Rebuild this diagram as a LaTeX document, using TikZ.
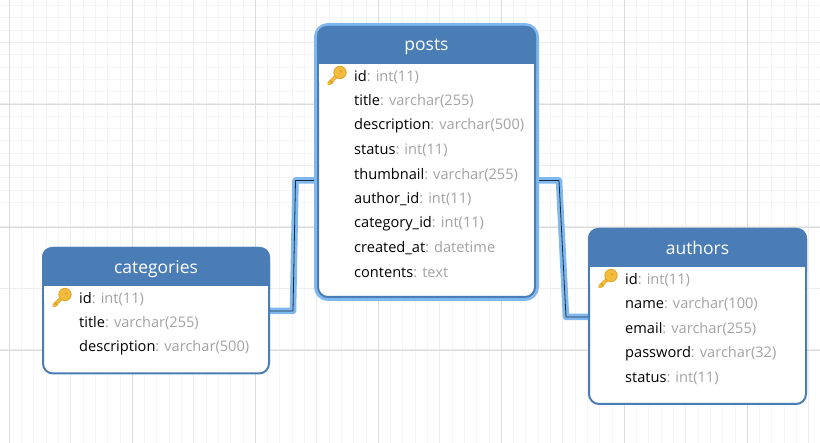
\documentclass[tikz,border=0pt]{standalone}
\usepackage{fontspec}
\setmainfont{Open Sans}
\definecolor{hdr}{HTML}{4A7DB5}
\definecolor{hilite}{HTML}{7FB8EE}
\definecolor{typ}{HTML}{A3A3A3}
\definecolor{gold}{HTML}{F3BC3C}
\definecolor{goldd}{HTML}{E0A528}
\tikzset{
  x=1pt,y=-1pt,
  tablebox/.style={draw=hdr,line width=2pt,fill=white,rounded corners=10pt,anchor=north west,inner sep=0pt,outer sep=0pt},
  titletext/.style={text=white,font=\fontsize{17.5}{19}\selectfont,inner sep=0pt},
  fieldtext/.style={anchor=west,inner sep=0pt,yshift=-1pt,font=\fontsize{14.6}{17}\selectfont},
  hiliteline/.style={draw=hilite,line width=6.5pt,line join=round,line cap=round},
  darkline/.style={draw=hdr!35!black,line width=.8pt,line join=round},
  gridminor/.style={draw=black!4,line width=.9pt},
  gridmid/.style={draw=black!7,line width=1.1pt},
  gridmajor/.style={draw=black!14,line width=.9pt},
}
\newcommand{\fld}[2]{#1\textcolor{typ}{: #2}}
\newcommand{\keyicon}[2]{%
  \begin{scope}[shift={(#1,#2)}]
    \draw[goldd,line width=3.8pt,line cap=round] (-7.5,7.5) -- (3,-3);
    \draw[gold,line width=2.2pt,line cap=round] (-7.5,7.5) -- (3,-3);
    \draw[goldd,line width=2pt] (-6.5,4.5) -- (-4,7.5);
    \fill[gold,draw=goldd,line width=.8pt] (3.5,-3.5) circle (6.2);
    \fill[goldd] (4.5,-4.5) circle (1.4);
  \end{scope}}
\begin{document}
\begin{tikzpicture}
\useasboundingbox (0,0) rectangle (820,443);
\fill[white] (0,0) rectangle (820,443);
% grid
\foreach \k in {0,...,66}{\draw[gridminor] ({9.3+12.3*\k},0) -- ({9.3+12.3*\k},443);}
\foreach \k in {-8,...,27}{\draw[gridminor] (0,{104-12.3*\k}) -- (820,{104-12.3*\k});}
\foreach \k in {0,...,13}{\draw[gridmid] ({9.3+61.5*\k},0) -- ({9.3+61.5*\k},443);}
\foreach \k in {-1,...,5}{\draw[gridmid] (0,{104-61.5+61.5*\k}) -- (820,{104-61.5+61.5*\k});}
\foreach \k in {0,...,6}{\draw[gridmajor] ({9.3+123*\k},0) -- ({9.3+123*\k},443);}
\foreach \k in {0,...,2}{\draw[gridmajor] (0,{104+123*\k}) -- (820,{104+123*\k});}
% connector anchors
\coordinate (p1) at (318,180.5);
\coordinate (b1) at (295.5,180.5);
\coordinate (b2) at (293,311);
\coordinate (c1) at (268,311);
\coordinate (p2) at (535,180.5);
\coordinate (b3) at (559,180.5);
\coordinate (b4) at (566,317);
\coordinate (a1) at (589,317);
% connectors
\draw[hiliteline] (p1) -- (b1) -- (b2) -- (c1);
\draw[hiliteline] (p2) -- (b3) -- (b4) -- (a1);
\draw[darkline] (p1) -- (b1) -- (b2) -- (c1);
\draw[darkline] (p2) -- (b3) -- (b4) -- (a1);
% posts
\draw[hilite,line width=4pt,rounded corners=12pt] (316,25) rectangle (537,299);
\node[tablebox,minimum width=217pt,minimum height=270pt] (posts) at (318,27) {};
\fill[hdr,rounded corners=10pt] (317,26) rectangle (536,80);
\fill[white] (319,64) rectangle (534,82);
\node[titletext] (poststitle) at (426.5,47) {posts};
\keyicon{336.5}{76}
\node[fieldtext] (p-a) at (354,76) {\fld{id}{int(11)}};
\node[fieldtext] (p-b) at (354,100.5) {\fld{title}{varchar(255)}};
\node[fieldtext] (p-c) at (354,125) {\fld{description}{varchar(500)}};
\node[fieldtext] (p-d) at (354,149.5) {\fld{status}{int(11)}};
\node[fieldtext] (p-e) at (354,174) {\fld{thumbnail}{varchar(255)}};
\node[fieldtext] (p-f) at (354,198.5) {\fld{author\_id}{int(11)}};
\node[fieldtext] (p-g) at (354,223) {\fld{category\_id}{int(11)}};
\node[fieldtext] (p-h) at (354,247.5) {\fld{created\_at}{datetime}};
\node[fieldtext] (p-i) at (354,272) {\fld{contents}{text}};
% categories
\node[tablebox,minimum width=226pt,minimum height=125.5pt] (categories) at (43,248) {};
\fill[hdr,rounded corners=10pt] (42,247) rectangle (270,300);
\fill[white] (44,286) rectangle (268,302);
\node[titletext] (catstitle) at (156,269) {categories};
\keyicon{61.5}{298}
\node[fieldtext] (c-a) at (79,298) {\fld{id}{int(11)}};
\node[fieldtext] (c-b) at (79,322.5) {\fld{title}{varchar(255)}};
\node[fieldtext] (c-c) at (79,347) {\fld{description}{varchar(500)}};
% authors
\node[tablebox,minimum width=217pt,minimum height=175pt] (authors) at (589,229) {};
\fill[hdr,rounded corners=10pt] (588,228) rectangle (807,282);
\fill[white] (590,267) rectangle (805,284);
\node[titletext] (authstitle) at (697.5,248) {authors};
\keyicon{607.5}{279}
\node[fieldtext] (a-a) at (625,279) {\fld{id}{int(11)}};
\node[fieldtext] (a-b) at (625,303.5) {\fld{name}{varchar(100)}};
\node[fieldtext] (a-c) at (625,328) {\fld{email}{varchar(255)}};
\node[fieldtext] (a-d) at (625,352.5) {\fld{password}{varchar(32)}};
\node[fieldtext] (a-e) at (625,377) {\fld{status}{int(11)}};
\end{tikzpicture}
\end{document}
